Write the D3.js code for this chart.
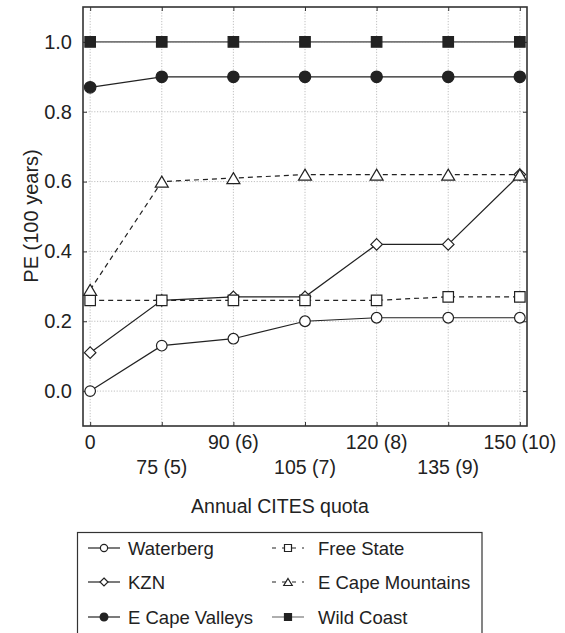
<!DOCTYPE html>
<html><head><meta charset="utf-8">
<script src="https://cdn.jsdelivr.net/npm/d3@7"></script>
<style>body{margin:0;background:#fff}svg{display:block}text{font-family:"Liberation Sans",Arial,sans-serif;fill:#222}</style>
</head><body><svg id="c" width="565" height="633"></svg>
<script>
const quotaLabels = ["0","75 (5)","90 (6)","105 (7)","120 (8)","135 (9)","150 (10)"];
const yTicks = [0,0.2,0.4,0.6,0.8,1.0];
const waterberg = [0,0.13,0.15,0.20,0.21,0.21,0.21];
const kzn = [0.11,0.26,0.27,0.27,0.42,0.42,0.62];
const eCapeValleys = [0.87,0.90,0.90,0.90,0.90,0.90,0.90];
const freeState = [0.26,0.26,0.26,0.26,0.26,0.27,0.27];
const eCapeMountains = [0.29,0.60,0.61,0.62,0.62,0.62,0.62];
const wildCoast = [1,1,1,1,1,1,1];

const seriesList = [
  {name:"Waterberg", values:waterberg, sym:"circle", fill:"#fff", dash:null, color:"#222"},
  {name:"KZN", values:kzn, sym:"diamond", fill:"#fff", dash:null, color:"#222"},
  {name:"E Cape Valleys", values:eCapeValleys, sym:"circle", fill:"#222", dash:null, color:"#222"},
  {name:"Free State", values:freeState, sym:"square", fill:"#fff", dash:"5,4", color:"#222"},
  {name:"E Cape Mountains", values:eCapeMountains, sym:"triangle", fill:"#fff", dash:"5,4", color:"#222"},
  {name:"Wild Coast", values:wildCoast, sym:"square", fill:"#222", dash:null, color:"#777"}
];

const svg = d3.select("#c");
const L=83, R=527, T=7, B=426;
const x = d3.scaleLinear().domain([-0.1,6.1]).range([L,R]);
const y = d3.scaleLinear().domain([-0.1,1.1]).range([B,T]);

// grid
const g = svg.append("g");
g.selectAll(".gx").data(quotaLabels).enter().append("line")
  .attr("x1",(d,i)=>x(i)).attr("x2",(d,i)=>x(i)).attr("y1",T).attr("y2",B)
  .attr("stroke","#b0b0b0").attr("stroke-width",0.8).attr("stroke-dasharray","1.2,1.6");
g.selectAll(".gy").data(yTicks).enter().append("line")
  .attr("y1",d=>y(d)).attr("y2",d=>y(d)).attr("x1",L).attr("x2",R)
  .attr("stroke","#b0b0b0").attr("stroke-width",0.8).attr("stroke-dasharray","1.2,1.6");

// axes (ticks inward)
const xAxisB = d3.axisBottom(x).tickValues(d3.range(quotaLabels.length)).tickSize(-4).tickFormat("");
const xAxisT = d3.axisTop(x).tickValues(d3.range(quotaLabels.length)).tickSize(-4).tickFormat("");
const yAxisL = d3.axisLeft(y).tickValues(yTicks).tickSize(-4).tickFormat(d3.format(".1f")).tickPadding(11);
const yAxisR = d3.axisRight(y).tickValues(yTicks).tickSize(-4).tickFormat("");
function styleAx(sel){sel.select(".domain").remove();sel.selectAll(".tick line").attr("stroke","#333");}
svg.append("g").attr("transform",`translate(0,${B})`).call(xAxisB).call(styleAx);
svg.append("g").attr("transform",`translate(0,${T})`).call(xAxisT).call(styleAx);
const ya = svg.append("g").attr("transform",`translate(${L},0)`).call(yAxisL).call(styleAx);
ya.selectAll("text").attr("font-size",20).style("font-family","Liberation Sans, Arial").attr("fill","#222");
svg.append("g").attr("transform",`translate(${R},0)`).call(yAxisR).call(styleAx);

// x tick labels in two rows
svg.append("g").selectAll("text").data(quotaLabels).enter().append("text")
  .attr("x",(d,i)=>x(i)).attr("y",(d,i)=> i%2===0 ? 449 : 474)
  .attr("text-anchor","middle").attr("font-size",19.5).text(d=>d);

// frame
svg.append("rect").attr("x",L).attr("y",T).attr("width",R-L).attr("height",B-T)
  .attr("fill","none").attr("stroke","#333").attr("stroke-width",1.6);

// titles
svg.append("text").attr("x",(L+R)/2 - 25).attr("y",513).attr("text-anchor","middle").attr("font-size",19.5).text("Annual CITES quota");
svg.append("text").attr("transform","translate(38,216) rotate(-90)").attr("text-anchor","middle").attr("font-size",20).text("PE (100 years)");

function symPath(sym, k){
  const p = d3.path();
  if(sym==="circle"){ const r=(k.r); p.arc(0,0,r,0,2*Math.PI); }
  else if(sym==="square"){ const h=k.s/2; p.rect(-h,-h,2*h,2*h); }
  else if(sym==="diamond"){ const h=k.d/2; p.moveTo(0,-h);p.lineTo(h,0);p.lineTo(0,h);p.lineTo(-h,0);p.closePath(); }
  else if(sym==="triangle"){ const w=k.tw/2, hh=k.th/2; p.moveTo(0,-hh);p.lineTo(w,hh);p.lineTo(-w,hh);p.closePath(); }
  return p.toString();
}
const big = {r:5.3, s:10.5, d:11.5, tw:13, th:11};
const small = {r:3.6, s:7, d:8, tw:8.5, th:7};
function drawSym(sel, s, k){
  const kk = Object.assign({}, k);
  if(s.sym==="circle" && s.fill==="#222") kk.r = k.r*1.08;
  sel.attr("d", symPath(s.sym, kk))
    .attr("fill", s.fill).attr("stroke","#222").attr("stroke-width",1.2);
}

const line = d3.line().x((d,i)=>x(i)).y(d=>y(d));
const plot = svg.append("g");
seriesList.forEach(s=>{
  plot.append("path").datum(s.values).attr("d",line).attr("fill","none")
    .attr("stroke",s.color).attr("stroke-width",s.name==="Wild Coast"?1.6:1.2)
    .attr("stroke-dasharray",s.dash);
});
seriesList.forEach(s=>{
  plot.selectAll(null).data(s.values).enter().append("path")
    .attr("transform",(d,i)=>`translate(${x(i)},${y(d)})`)
    .each(function(){drawSym(d3.select(this), s, big);});
});

// legend
const lg = svg.append("g");
lg.append("rect").attr("x",77.5).attr("y",532.5).attr("width",404.5).attr("height",130)
  .attr("fill","#fff").attr("stroke","#333").attr("stroke-width",1.2);
seriesList.forEach((s,i)=>{
  const col = Math.floor(i/3), row = i%3;
  const cx = col===0 ? 104 : 288;
  const cy = [548,582,617][row];
  lg.append("line").attr("x1",cx-16).attr("x2",cx+16).attr("y1",cy).attr("y2",cy)
    .attr("stroke",s.color).attr("stroke-width",1.2).attr("stroke-dasharray",s.dash? "4,6":null);
  const m = lg.append("path").attr("transform",`translate(${cx},${cy})`);
  drawSym(m, s, small);
  lg.append("text").attr("x", col===0 ? 128 : 318).attr("y",cy+6.5).attr("font-size",18.5).text(s.name);
});
</script></body></html>
